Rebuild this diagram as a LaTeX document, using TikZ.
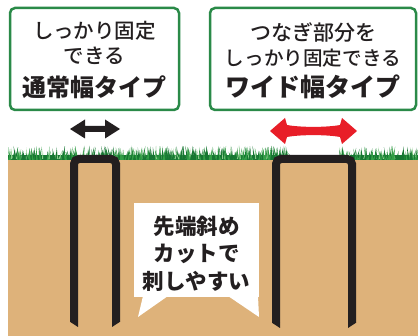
\documentclass[tikz,border=0pt]{standalone}
\usepackage{fontspec}
\newfontfamily\jp{Noto Sans CJK JP}
\newfontfamily\jpmed{Noto Sans CJK JP Medium}
\definecolor{soil}{RGB}{222,178,122}
\definecolor{frame}{RGB}{42,138,72}
\definecolor{ink}{RGB}{35,31,32}
\definecolor{arrowred}{RGB}{232,30,40}
\definecolor{grassA}{RGB}{22,118,50}
\definecolor{grassB}{RGB}{50,158,70}
\definecolor{grassC}{RGB}{140,205,140}
\begin{document}
\begin{tikzpicture}[x=1pt,y=-1pt,
  labelbox/.style={draw=frame, line width=2.5pt, fill=white, rounded corners=5pt},
  plain/.style={text=ink, inner sep=0pt, font=\jpmed\fontsize{20.5}{20.5}\selectfont},
  strong/.style={text=ink, inner sep=0pt, font=\jp\bfseries\fontsize{24}{24}\selectfont},
  bubbletext/.style={text=ink, inner sep=0pt, font=\jp\bfseries\fontsize{21.5}{21.5}\selectfont},
  staple/.style={draw=ink, line width=8pt, rounded corners=5pt},
  tip/.style={fill=ink}]
\useasboundingbox (0,0) rectangle (418,336);
\fill[white] (0,0) rectangle (418,336);

% soil
\fill[soil] (8,159) rectangle (418,336);

% grass, leaving a gap above the wide staple
\begin{scope}
  \clip (8,140) rectangle (292,161) (339,140) rectangle (418,161);
  \fill[grassA] (8,155) rectangle (418,160.5);
  \pgfmathsetseed{7}
  \foreach \i in {1,...,560} {
    \pgfmathsetmacro\bx{8+410*rnd}
    \pgfmathsetmacro\bt{145.5+8.5*rnd}
    \pgfmathsetmacro\bl{6*rnd-3}
    \pgfmathsetmacro\bc{rnd}
    \ifdim\bc pt<0.45pt
      \fill[grassA] (\bx-1,160) -- (\bx+\bl,\bt) -- (\bx+1,160) -- cycle;
    \else\ifdim\bc pt<0.85pt
      \fill[grassB] (\bx-0.8,160) -- (\bx+\bl,\bt) -- (\bx+0.8,160) -- cycle;
    \else
      \fill[grassC] (\bx-0.6,159) -- (\bx+\bl,\bt) -- (\bx+0.6,159) -- cycle;
    \fi\fi
  }
\end{scope}

% label boxes
\draw[labelbox] (10,8) rectangle (179,110);
\draw[labelbox] (210,8) rectangle (416,110);
\node[plain] (l1) at (94.5,31) {しっかり固定};
\node[plain] (l2) at (94.5,56) {できる};
\node[strong] (l3) at (94.5,87) {通常幅タイプ};
\node[plain, font=\jpmed\fontsize{21}{21}\selectfont] (r1) at (313,33) {つなぎ部分を};
\node[plain, font=\jpmed\fontsize{19.6}{19.6}\selectfont] (r2) at (313,58) {しっかり固定できる};
\node[strong, font=\jp\bfseries\fontsize{25}{25}\selectfont] (r3) at (313,87) {ワイド幅タイプ};

% width arrows
\fill[ink] (70,129) -- (85,119.5) -- (85,126) -- (105,126) -- (105,119.5)
  -- (120,129) -- (105,138.5) -- (105,132) -- (85,132) -- (85,138.5) -- cycle;
\fill[arrowred] (270,131) -- (285,118) -- (287,125)
  .. controls (300,127.5) and (327,127.5) .. (340,125)
  -- (342,118) -- (357,131) -- (342,144) -- (340,137)
  .. controls (327,134.5) and (300,134.5) .. (287,137)
  -- (285,144) -- cycle;

% staples
\draw[staple] (74,322) -- (74,159) -- (116,159) -- (116,322);
\fill[tip] (70,321.8) -- (78,321.8) -- (78,327) -- cycle;
\fill[tip] (112,321.8) -- (120,321.8) -- (112,327) -- cycle;
\draw[staple] (276,323) -- (276,159) -- (352,159) -- (352,323);
\fill[tip] (272,322.8) -- (280,322.8) -- (280,328) -- cycle;
\fill[tip] (348,322.8) -- (356,322.8) -- (348,328) -- cycle;

% callout
\fill[white] (134,203) rectangle (259,297);
\fill[white] (143,296) -- (138,317) -- (168,296) -- cycle;
\fill[white] (228,296) -- (259,317) -- (258,296) -- cycle;
\node[bubbletext] (b1) at (196.5,226) {先端斜め};
\node[bubbletext] (b2) at (196.5,254) {カットで};
\node[bubbletext] (b3) at (196.5,281) {刺しやすい};
\end{tikzpicture}
\end{document}
